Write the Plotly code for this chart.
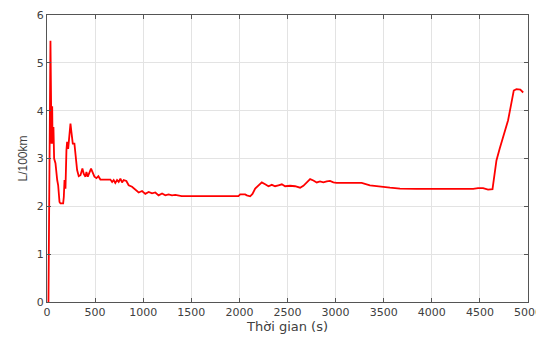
import plotly.graph_objects as go

time_s = [15, 36, 47, 54, 58, 67, 74, 88, 106, 116, 130, 140, 168, 175, 182, 192, 202, 209, 220, 230,
          244, 254, 268, 285, 299, 313, 330, 348, 368, 382, 400, 410, 424, 438, 458, 472, 493, 514,
          534, 555, 590, 625, 659, 677, 693, 710, 728, 745, 763, 780, 797, 825, 849, 884, 918, 953,
          988, 1022, 1057, 1092, 1126, 1160, 1196, 1230, 1264, 1299, 1334, 1368, 1400, 1990, 2008,
          2060, 2077, 2112, 2136, 2164, 2198, 2233, 2268, 2302, 2337, 2371, 2406, 2441, 2475, 2527,
          2579, 2631, 2665, 2700, 2735, 2769, 2804, 2838, 2873, 2908, 2942, 2977, 3010, 3150, 3271,
          3357, 3461, 3565, 3669, 3842, 4430, 4481, 4533, 4585, 4631, 4672, 4706, 4758, 4793, 4852,
          4880, 4920, 4950]
fuel_l100km = [0.0, 5.46, 3.31, 4.09, 3.31, 3.66, 3.0, 2.9, 2.55, 2.44, 2.09, 2.06, 2.06, 2.2, 2.55,
               2.37, 3.17, 3.35, 3.2, 3.38, 3.73, 3.55, 3.31, 3.31, 3.03, 2.76, 2.63, 2.65, 2.79,
               2.68, 2.62, 2.72, 2.62, 2.7, 2.79, 2.72, 2.62, 2.59, 2.63, 2.56, 2.56, 2.55, 2.56,
               2.51, 2.55, 2.49, 2.55, 2.51, 2.58, 2.5, 2.55, 2.53, 2.44, 2.41, 2.34, 2.29, 2.32,
               2.26, 2.3, 2.27, 2.29, 2.23, 2.27, 2.23, 2.25, 2.23, 2.24, 2.22, 2.215, 2.215, 2.25,
               2.25, 2.23, 2.21, 2.26, 2.37, 2.44, 2.5, 2.46, 2.42, 2.45, 2.42, 2.44, 2.46, 2.42,
               2.43, 2.42, 2.39, 2.43, 2.5, 2.57, 2.54, 2.5, 2.52, 2.5, 2.52, 2.53, 2.5, 2.49, 2.49,
               2.49, 2.44, 2.41, 2.39, 2.37, 2.364, 2.364, 2.38, 2.38, 2.35, 2.36, 2.96, 3.21, 3.59,
               3.8, 4.42, 4.45, 4.44, 4.38]

x_ticks = [0, 500, 1000, 1500, 2000, 2500, 3000, 3500, 4000, 4500, 5000]
y_ticks = [0, 1, 2, 3, 4, 5, 6]

fig = go.Figure()
fig.add_trace(go.Scatter(x=time_s, y=fuel_l100km, mode="lines",
                         line=dict(color="#ff0000", width=1.8), showlegend=False))

axis_common = dict(showline=True, linecolor="#555555", linewidth=1, mirror="allticks",
                   ticks="inside", ticklen=4, tickcolor="#555555", automargin=False,
                   showgrid=True, gridcolor="#e3e3e3", gridwidth=1, zeroline=False,
                   tickfont=dict(family="DejaVu Sans, sans-serif", size=11, color="#404040"))

fig.update_xaxes(range=[0, 5000], tickvals=x_ticks,
                 title=dict(text="Thời gian (s)", standoff=3,
                            font=dict(family="DejaVu Sans, sans-serif", size=13, color="#404040")),
                 **axis_common)
fig.update_yaxes(range=[0, 6], tickvals=y_ticks,
                 title=dict(text="L/100km", standoff=6,
                            font=dict(family="Liberation Sans, Arial, sans-serif", size=12, color="#404040")),
                 **axis_common)

# page body has an 8px margin, so the figure is drawn 8px in from the top-left corner
fig.update_layout(width=536, height=330, margin=dict(l=39, r=16, t=7, b=36),
                  paper_bgcolor="white", plot_bgcolor="white")

fig.write_html("out.html")
